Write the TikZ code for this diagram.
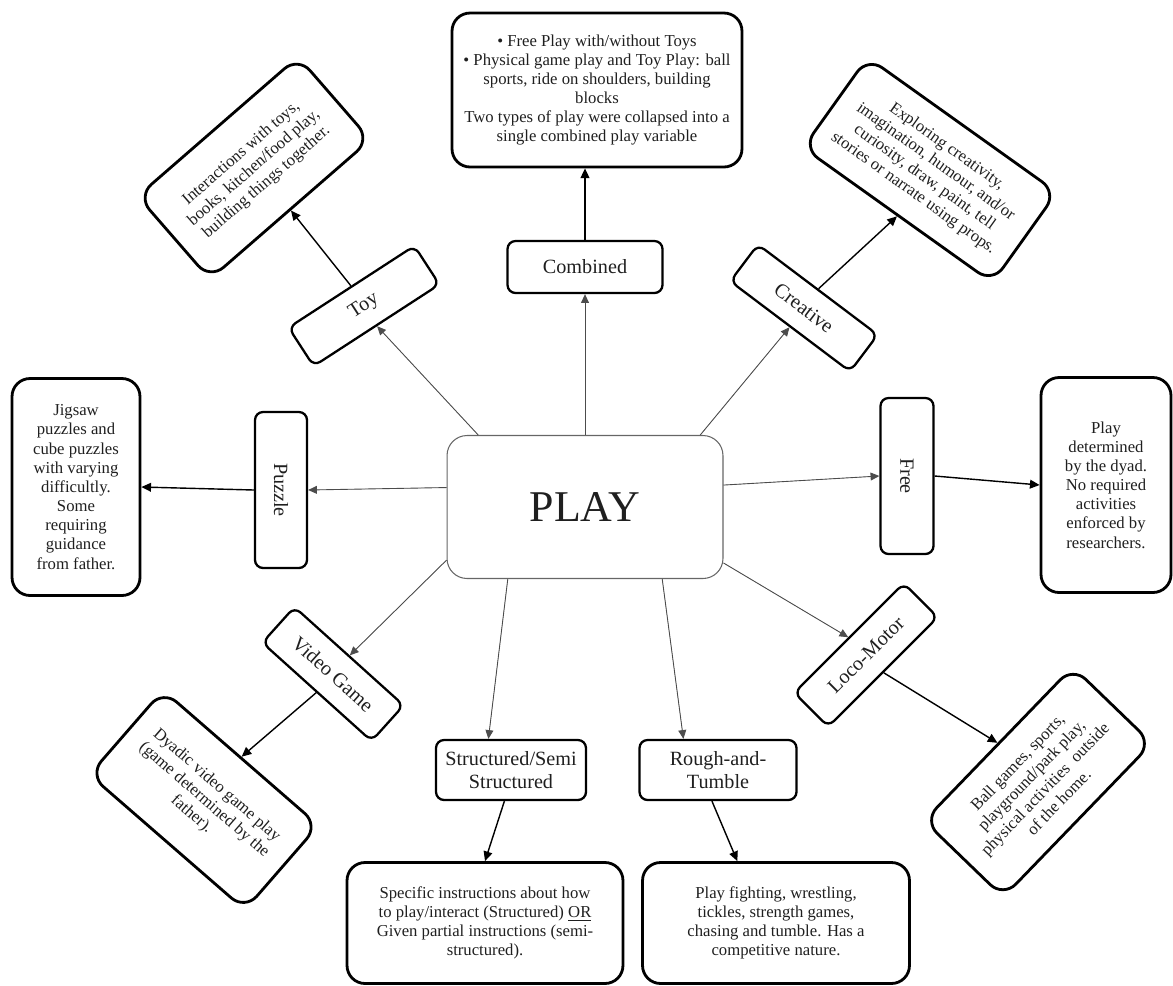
\documentclass[tikz,border=0pt]{standalone}
\usepackage{fontspec}
\setmainfont{Liberation Serif}
\usetikzlibrary{arrows.meta}
\tikzset{
  desc/.style={draw, line width=1.6pt, rounded corners=0.36cm, align=center,
    font=\fontsize{9.5}{10.9}\selectfont, inner sep=2pt, text=black!88},
  lab/.style={draw, line width=1.3pt, rounded corners=0.16cm, align=center,
    font=\fontsize{11.5}{13}\selectfont, inner sep=2pt, text=black!88},
  thinarrow/.style={-{Triangle[length=5pt,width=4.5pt]}, line width=0.5pt, draw=black!70, fill=black!80},
  thickarrow/.style={-{Triangle[length=5.5pt,width=5pt]}, line width=0.8pt},
}
\begin{document}
\begin{tikzpicture}[x=0.02cm,y=-0.02cm]
\useasboundingbox (0,0) rectangle (1173,985);

% centre
\node[draw=black!60, line width=0.6pt, rounded corners=0.4cm, minimum width=5.52cm, minimum height=2.86cm,
  font=\fontsize{25}{28}\selectfont, text=black!88] (PLAY) at (585,507) {PLAY};

% category boxes
\node[lab, minimum width=3.1cm, minimum height=1.04cm] (Comb) at (585,267) {Combined};
\node[lab, minimum width=3.0cm, minimum height=0.92cm, rotate=33] (Toy) at (364,306) {Toy};
\node[lab, minimum width=3.0cm, minimum height=0.92cm, rotate=-37] (Creat) at (804,308) {Creative};
\node[lab, minimum width=3.12cm, minimum height=1.04cm, rotate=-90] (Puz) at (281,490) {Puzzle};
\node[lab, minimum width=3.12cm, minimum height=1.06cm, rotate=-90] (Free) at (907,476) {Free};
\node[lab, minimum width=2.94cm, minimum height=0.96cm, rotate=-42] (VG) at (333,674) {Video Game};
\node[lab, minimum width=3.0cm, minimum height=1.2cm] (Struct) at (511,770) {Structured/Semi\\Structured};
\node[lab, minimum width=3.14cm, minimum height=1.2cm] (Rough) at (718,770) {Rough-and-\\Tumble};
\node[lab, minimum width=3.1cm, minimum height=0.96cm, rotate=45] (Loco) at (866,655) {Loco-Motor};

% description boxes
\node[desc, minimum width=5.8cm, minimum height=3.08cm] (CombD) at (597,90)
  {\textbullet\ Free Play with/without Toys\\
   \textbullet\ Physical game play and Toy Play: ball\\
   sports, ride on shoulders, building\\
   blocks\\
   Two types of play were collapsed into a\\
   single combined play variable};
\node[desc, minimum width=4.25cm, minimum height=2.2cm, rotate=41] (ToyD) at (254,168)
  {Interactions with toys,\\ books, kitchen/food play,\\ building things together.};
\node[desc, minimum width=4.65cm, minimum height=2.22cm, rotate=-35.5] (CreatD) at (930,170)
  {Exploring creativity,\\ imagination, humour, and/or\\ curiosity, draw, paint, tell\\ stories or narrate using props.};
\node[desc, minimum width=2.56cm, minimum height=4.34cm] (PuzD) at (76,487)
  {Jigsaw\\ puzzles and\\ cube puzzles\\ with varying\\ difficultly.\\ Some\\ requiring\\ guidance\\ from father.};
\node[desc, minimum width=2.6cm, minimum height=4.3cm] (FreeD) at (1106,485)
  {Play\\ determined\\ by the dyad.\\ No required\\ activities\\ enforced by\\ researchers.};
\node[desc, minimum width=4.12cm, minimum height=2.24cm, rotate=-41] (VGD) at (204,800)
  {Dyadic video game play\\ (game determined by the\\ father).};
\node[desc, minimum width=5.52cm, minimum height=2.42cm] (StructD) at (485,923)
  {Specific instructions about how\\ to play/interact (Structured) \underline{OR}\\ Given partial instructions (semi-\\ structured).};
\node[desc, minimum width=5.34cm, minimum height=2.42cm] (RoughD) at (776,923)
  {Play fighting, wrestling,\\ tickles, strength games,\\ chasing and tumble. Has a\\ competitive nature.};
\node[desc, minimum width=4.28cm, minimum height=2.2cm, rotate=46] (LocoD) at (1038,782)
  {Ball games, sports,\\ playground/park play,\\ physical activities\ \ outside\\ of the home.};

% connectors from PLAY
\draw[thinarrow] (PLAY.north) -- (PLAY.north |- Comb.south);
\draw[thinarrow] (PLAY.146) -- (Toy.south);
\draw[thinarrow] (PLAY.32) -- (Creat.south);
\draw[thinarrow] (PLAY.172) -- (Puz.north);
\draw[thinarrow] (PLAY.9) -- (Free.south);
\draw[thinarrow] (PLAY.201) -- (VG.north);
\draw[thinarrow] (PLAY.223) -- (Struct.126);
\draw[thinarrow] (PLAY.317) -- (Rough.138);
\draw[thinarrow] (PLAY.338) -- (Loco.north);

% connectors to descriptions
\draw[thickarrow] (Comb.north) -- (Comb.north |- CombD.south);
\draw[thickarrow] (Toy.north) -- (ToyD.south);
\draw[thickarrow] (Creat.north) -- (CreatD.south);
\draw[thickarrow] (Puz.south) -- (PuzD.east);
\draw[thickarrow] (Free.north) -- (FreeD.west);
\draw[thickarrow] (VG.south) -- (VGD.north);
\draw[thickarrow] (Struct.258) -- (StructD.north);
\draw[thickarrow] (Rough.259) -- (RoughD.122);
\draw[thickarrow] (Loco.south) -- (LocoD.north);
\end{tikzpicture}
\end{document}
